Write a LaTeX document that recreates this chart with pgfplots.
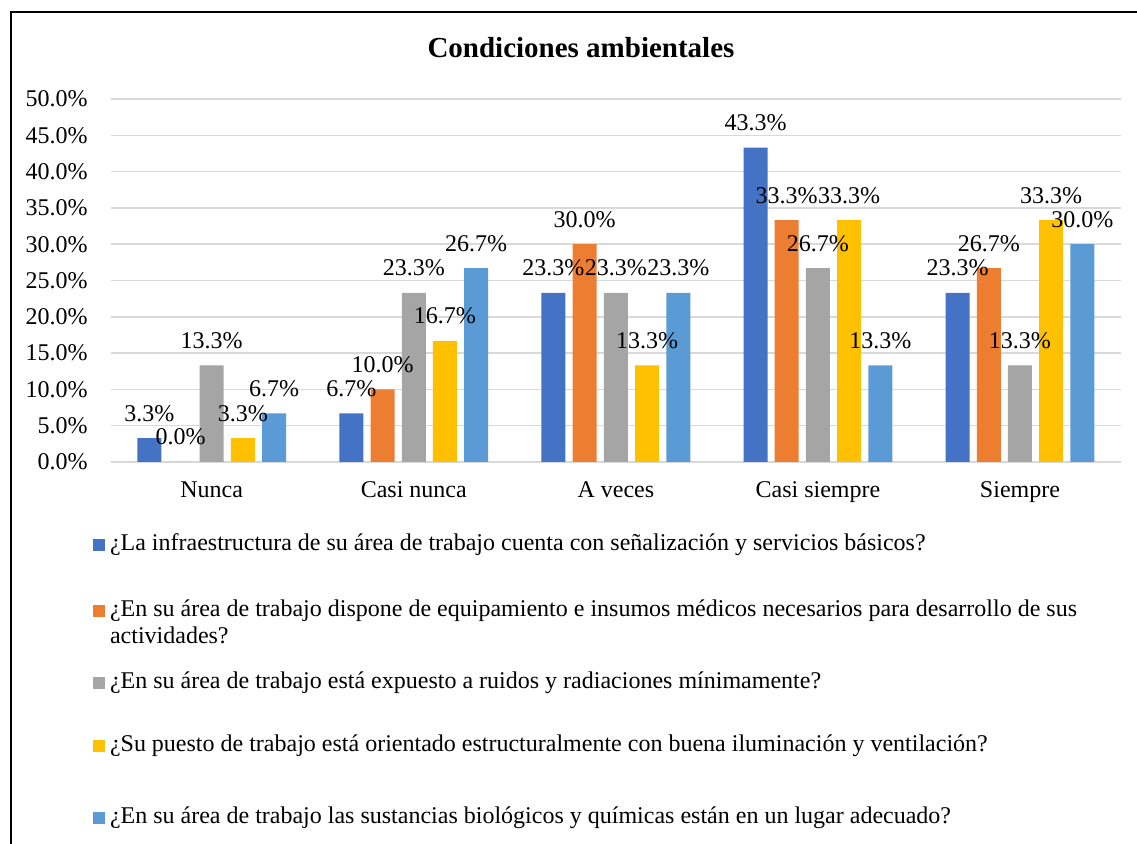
\documentclass[border=0pt]{standalone}
\usepackage{fontspec}
\setmainfont{Liberation Serif}
\usepackage{pgfplots}
\pgfplotsset{compat=1.18}

\definecolor{cA}{HTML}{4472C4}
\definecolor{cB}{HTML}{ED7D31}
\definecolor{cC}{HTML}{A5A5A5}
\definecolor{cD}{HTML}{FFC000}
\definecolor{cE}{HTML}{5B9BD5}
\definecolor{gridc}{HTML}{D9D9D9}

% legend text: fixed width, extra depth to space the entries like the original
\newcommand{\entry}[2]{\parbox[t]{490pt}{\raggedright\strut #1\rule[-#2]{0pt}{#2}}}

\begin{document}
\begin{tikzpicture}[font=\fontsize{12}{13.5}\selectfont]
\useasboundingbox (0,0) rectangle (568.5pt,422pt);
\draw[line width=1.2pt] (5.5pt,-5pt) -- (5.5pt,416pt) -- (580pt,416pt);
\node[anchor=base, font=\fontsize{14.5}{16}\selectfont\bfseries] at (290.5pt,393pt) {Condiciones ambientales};

\begin{axis}[
    at={(55.35pt,191pt)}, anchor=south west,
    scale only axis,
    width=505.15pt, height=181.5pt,
    ybar=3.6pt,
    bar width=12pt,
    xmin=-0.5, xmax=4.5,
    ymin=0, ymax=50,
    ytick={0,5,...,50},
    xtick={0,1,2,3,4},
    xticklabels={Nunca, Casi nunca, A veces, Casi siempre, Siempre},
    major tick length=0pt,
    axis line style={draw=none},
    ymajorgrids,
    major grid style={draw=gridc, line width=0.75pt},
    /pgf/number format/assume math mode=true,
    yticklabel={\pgfmathprintnumber[fixed,fixed zerofill,precision=1]{\tick}\%},
    yticklabel style={anchor=east, inner sep=0pt, xshift=-11.3pt},
    xticklabel style={anchor=base, inner sep=0pt, yshift=-18pt},
    nodes near coords={\pgfmathprintnumber[fixed,fixed zerofill,precision=1]{\pgfplotspointmeta}\%},
    every node near coord/.append style={anchor=base, inner sep=0pt, yshift=8.5pt, text=black},
    legend image code/.code={\fill[#1] (0pt,0pt) rectangle (6pt,6pt);},
    legend style={at={(-0.0175,-0.193)}, anchor=north west, draw=none, fill=none,
        inner sep=0pt, outer sep=0pt, row sep=0pt, column sep=2.5pt,
        nodes={inner sep=0pt, anchor=base west, text depth=}, cells={anchor=base west}},
    legend cell align=left,
]
\addplot[fill=cA, draw=none] coordinates {(0,3.3) (1,6.7) (2,23.3) (3,43.3) (4,23.3)};
\addlegendentry{\entry{¿La infraestructura de su área de trabajo cuenta con señalización y servicios básicos?}{23.5pt}}
\addplot[fill=cB, draw=none] coordinates {(0,0.0) (1,10.0) (2,30.0) (3,33.3) (4,26.7)};
\addlegendentry{\entry{¿En su área de trabajo dispone de equipamiento e insumos médicos necesarios para desarrollo de sus actividades?}{13pt}}
\addplot[fill=cC, draw=none] coordinates {(0,13.3) (1,23.3) (2,23.3) (3,26.7) (4,13.3)};
\addlegendentry{\entry{¿En su área de trabajo está expuesto a ruidos y radiaciones mínimamente?}{22pt}}
\addplot[fill=cD, draw=none] coordinates {(0,3.3) (1,16.7) (2,13.3) (3,33.3) (4,33.3)};
\addlegendentry{\entry{¿Su puesto de trabajo está orientado estructuralmente con buena iluminación y ventilación?}{26.5pt}}
\addplot[fill=cE, draw=none] coordinates {(0,6.7) (1,26.7) (2,23.3) (3,13.3) (4,30.0)};
\addlegendentry{\entry{¿En su área de trabajo las sustancias biológicos y químicas están en un lugar adecuado?}{4pt}}
\end{axis}
\end{tikzpicture}
\end{document}
